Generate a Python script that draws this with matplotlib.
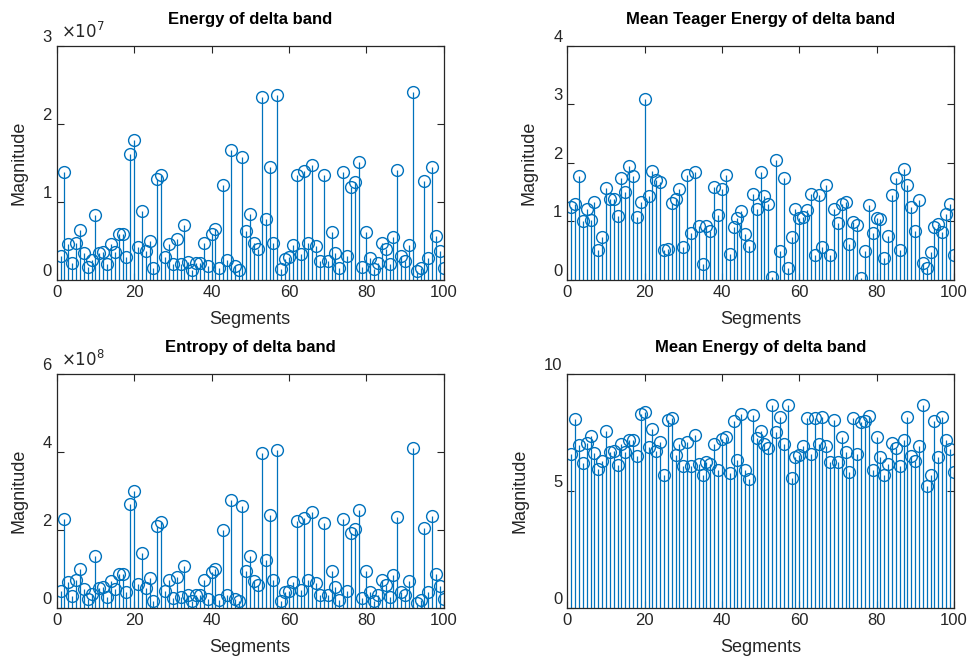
import numpy as np
import matplotlib
matplotlib.use("Agg")
import matplotlib.pyplot as plt
from matplotlib.ticker import FuncFormatter
from matplotlib.transforms import ScaledTranslation

plt.rcParams['font.family'] = ['Liberation Sans', 'DejaVu Sans']

# segment index
segments = np.arange(1, 101)

# Energy of delta band (x 1e7)
energy = [0.31, 1.39, 0.46, 0.22, 0.48, 0.64, 0.35, 0.17, 0.25, 0.83,
          0.35, 0.36, 0.20, 0.46, 0.36, 0.59, 0.59, 0.30, 1.62, 1.79,
          0.42, 0.89, 0.37, 0.50, 0.16, 1.29, 1.35, 0.30, 0.46, 0.21,
          0.52, 0.20, 0.70, 0.23, 0.13, 0.22, 0.22, 0.48, 0.18, 0.59,
          0.65, 0.16, 1.22, 0.25, 1.66, 0.18, 0.13, 1.58, 0.63, 0.84,
          0.47, 0.40, 2.35, 0.78, 1.45, 0.48, 2.37, 0.14, 0.27, 0.30,
          0.45, 1.35, 0.33, 1.40, 0.48, 1.48, 0.43, 0.24, 1.34, 0.24,
          0.62, 0.35, 0.16, 1.39, 0.31, 1.19, 1.25, 1.51, 0.17, 0.62,
          0.28, 0.14, 0.22, 0.48, 0.40, 0.21, 0.55, 1.41, 0.31, 0.24,
          0.45, 2.41, 0.11, 0.15, 1.27, 0.28, 1.45, 0.57, 0.37, 0.16]

# Mean Teager Energy of delta band
teager = [1.25, 1.30, 1.77, 1.01, 1.22, 1.03, 1.33, 0.51, 0.74, 1.58,
          1.39, 1.39, 1.09, 1.75, 1.51, 1.94, 1.78, 1.07, 1.34, 3.09,
          1.44, 1.86, 1.71, 1.67, 0.51, 0.53, 1.31, 1.38, 1.56, 0.57,
          1.79, 0.80, 1.84, 0.93, 0.27, 0.93, 0.84, 1.59, 1.11, 1.56,
          1.80, 0.45, 0.90, 1.06, 1.18, 0.78, 0.58, 1.47, 1.22, 1.84,
          1.44, 1.30, 0.05, 2.05, 0.49, 1.75, 0.20, 0.74, 1.22, 1.06,
          1.07, 1.19, 1.47, 0.43, 1.45, 0.56, 1.62, 0.43, 1.22, 0.98,
          1.30, 1.33, 0.62, 0.99, 0.94, 0.03, 0.49, 1.28, 0.80, 1.06,
          1.04, 0.37, 0.76, 1.45, 1.75, 0.51, 1.90, 1.62, 1.24, 0.84,
          1.36, 0.29, 0.20, 0.47, 0.91, 0.96, 0.82, 1.13, 1.30, 0.43]

# Entropy of delta band (x 1e8)
entropy = [0.43, 2.27, 0.67, 0.30, 0.71, 0.99, 0.49, 0.24, 0.35, 1.32,
           0.50, 0.55, 0.27, 0.68, 0.49, 0.86, 0.86, 0.42, 2.67, 3.01,
           0.62, 1.42, 0.52, 0.78, 0.19, 2.09, 2.21, 0.44, 0.72, 0.26,
           0.79, 0.27, 1.08, 0.33, 0.17, 0.33, 0.33, 0.71, 0.23, 0.92,
           0.99, 0.21, 2.00, 0.34, 2.77, 0.23, 0.17, 2.61, 0.96, 1.32,
           0.69, 0.59, 3.98, 1.23, 2.39, 0.71, 4.06, 0.18, 0.40, 0.44,
           0.67, 2.22, 0.45, 2.30, 0.72, 2.45, 0.64, 0.32, 2.19, 0.32,
           0.96, 0.53, 0.21, 2.27, 0.43, 1.93, 2.03, 2.50, 0.25, 0.96,
           0.40, 0.18, 0.32, 0.72, 0.59, 0.27, 0.84, 2.34, 0.42, 0.33,
           0.68, 4.09, 0.14, 0.21, 2.06, 0.40, 2.37, 0.86, 0.56, 0.22]

# Mean Energy of delta band
mean_energy = [6.57, 8.09, 6.98, 6.18, 7.04, 7.34, 6.62, 5.94, 6.27, 7.58,
               6.68, 6.72, 6.10, 7.00, 6.65, 7.19, 7.19, 6.51, 8.28, 8.36,
               6.87, 7.65, 6.72, 7.08, 5.68, 8.03, 8.11, 6.52, 7.00, 6.05,
               7.08, 6.05, 7.41, 6.14, 5.70, 6.24, 6.17, 7.00, 5.90, 7.21,
               7.32, 5.78, 7.99, 6.31, 8.29, 5.90, 5.53, 8.25, 7.28, 7.58,
               7.00, 6.82, 8.66, 7.54, 8.15, 7.02, 8.66, 5.57, 6.45, 6.52,
               6.92, 8.11, 6.57, 8.11, 7.00, 8.15, 6.91, 6.23, 8.05, 6.23,
               7.29, 6.68, 5.80, 8.11, 6.57, 7.94, 7.99, 8.22, 5.91, 7.29,
               6.47, 5.68, 6.15, 7.07, 6.82, 6.05, 7.18, 8.16, 6.51, 6.30,
               6.91, 8.66, 5.23, 5.68, 7.99, 6.47, 8.16, 7.18, 6.78, 5.80]

energy = np.array(energy) * 1e7
entropy = np.array(entropy) * 1e8

blue = '#0072BD'

fig = plt.figure(figsize=(9.71, 6.63), dpi=100)

# axes positions (figure fractions), matlab-like 2x2 layout
positions = [[0.0584, 0.5777, 0.3986, 0.353],
             [0.5843, 0.5777, 0.398, 0.353],
             [0.0584, 0.083, 0.3986, 0.353],
             [0.5843, 0.083, 0.398, 0.353]]

panels = [
    (energy, "Energy of delta band", [0, 1e7, 2e7, 3e7], 1e7, 7),
    (teager, "Mean Teager Energy of delta band", [0, 1, 2, 3, 4], 1, None),
    (entropy, "Entropy of delta band", [0, 2e8, 4e8, 6e8], 1e8, 8),
    (mean_energy, "Mean Energy of delta band", [0, 5, 10], 1, None),
]

label_shift = ScaledTranslation(0, 0.10, fig.dpi_scale_trans)

for pos, (vals, title, yticks, scale, expo) in zip(positions, panels):
    ax = fig.add_axes(pos)
    markerline, stemlines, baseline = ax.stem(segments, vals, basefmt=' ')
    plt.setp(stemlines, color=blue, linewidth=0.9)
    plt.setp(markerline, color=blue, marker='o', markersize=8.5,
             markerfacecolor='none', markeredgewidth=1.0)

    ax.set_xlim(0, 100)
    ax.set_ylim(yticks[0], yticks[-1])
    ax.set_xticks([0, 20, 40, 60, 80, 100])
    ax.set_yticks(yticks)
    ax.yaxis.set_major_formatter(FuncFormatter(lambda v, p, s=scale: f"{v / s:g}"))

    ax.tick_params(direction='in', top=True, right=True, length=5,
                   width=0.8, labelsize=12, colors='#262626')
    for side in ax.spines.values():
        side.set_linewidth(0.9)
        side.set_color('#262626')

    # tick labels on the y axis sit a bit higher in the reference
    for tk in ax.yaxis.get_major_ticks():
        tk.label1.set_transform(tk.label1.get_transform() + label_shift)

    ax.set_title(title, fontsize=12, fontweight='bold', pad=16)
    ax.set_xlabel("Segments", fontsize=13, labelpad=8, color='#262626')
    ax.set_ylabel("Magnitude", fontsize=13, labelpad=11, color='#262626')

    if expo is not None:
        ax.text(0.012, 1.02, r"$\times10^{%d}$" % expo, transform=ax.transAxes,
                fontsize=12, ha='left', va='bottom', color='#262626')

plt.savefig("out.png", dpi=100)
plt.close()
